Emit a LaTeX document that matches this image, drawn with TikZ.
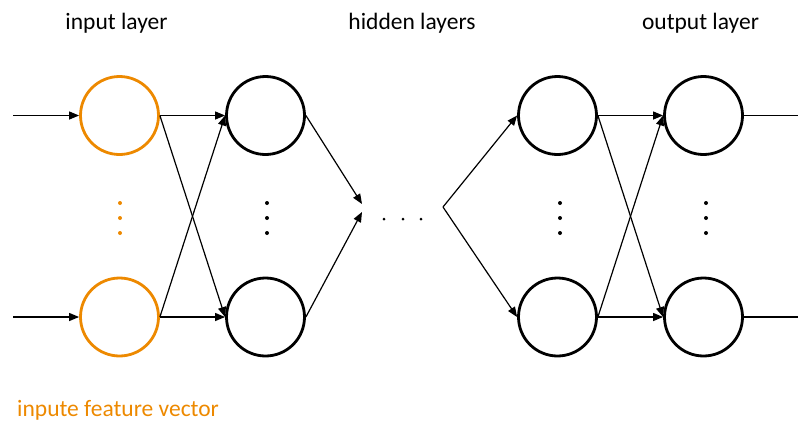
\documentclass[tikz,border=0pt]{standalone}
\usepackage{fontspec}
\setmainfont{Carlito}
\usetikzlibrary{arrows.meta}
\definecolor{featorange}{RGB}{237,137,0}
\begin{document}
\begin{tikzpicture}[x=1pt,y=-1pt,
  neuron/.style={circle,draw=black,line width=2.8pt,minimum size=78pt,inner sep=0pt},
  inneuron/.style={neuron,draw=featorange},
  link/.style={line width=1.2pt,-{Triangle[length=10pt,width=8pt]}},
  plain/.style={line width=1.2pt},
  vdot/.style={circle,fill=black,inner sep=0pt,minimum size=4pt},
  hdot/.style={circle,fill=black,inner sep=0pt,minimum size=3pt},
  caption/.style={font=\fontsize{23.5}{28}\selectfont,inner sep=0pt}]
\useasboundingbox (0,0) rectangle (798,421);

% layer titles
\node[caption] (tin) at (116.5,23) {input layer};
\node[caption] (thid) at (412,23) {hidden layers};
\node[caption] (tout) at (700.5,23) {output layer};
\node[caption,text=featorange,anchor=west] (tfeat) at (17,410) {inpute feature vector};

% neurons
\node[inneuron] (i1) at (119.5,115.5) {};
\node[inneuron] (i2) at (119.5,317) {};
\node[neuron] (h1) at (265.5,115.5) {};
\node[neuron] (h2) at (265.5,317) {};
\node[neuron] (k1) at (557.5,115.5) {};
\node[neuron] (k2) at (557.5,317) {};
\node[neuron] (o1) at (703.5,115.5) {};
\node[neuron] (o2) at (703.5,317) {};

% vertical ellipses
\foreach \yy [count=\n] in {203,218,233} {
  \node[vdot,fill=featorange] (di\n) at (120,\yy) {};
  \node[vdot] (dh\n) at (267,\yy) {};
  \node[vdot] (dk\n) at (560,\yy) {};
  \node[vdot] (do\n) at (706,\yy) {};
}
% horizontal ellipsis between hidden layers
\node[hdot] (e1) at (384,219) {};
\node[hdot] (e2) at (403,219) {};
\node[hdot] (e3) at (421,219) {};

% free ends
\coordinate (in1) at (13,115.5);
\coordinate (in2) at (13,317);
\coordinate (out1) at (798,115.5);
\coordinate (out2) at (798,317);
\coordinate (mid1) at (362,204);
\coordinate (mid2) at (362,212);
\coordinate (fan) at (443,207);

% connections
\draw[link] (in1) -- (i1.west);
\draw[link] (in2) -- (i2.west);
\draw[link] (i1.east) -- (h1.west);
\draw[link] (i1.east) -- (h2.west);
\draw[link] (i2.east) -- (h1.west);
\draw[link] (i2.east) -- (h2.west);
\draw[link] (h1.east) -- (mid1);
\draw[link] (h2.east) -- (mid2);
\draw[link] (fan) -- (k1.west);
\draw[link] (fan) -- (k2.west);
\draw[link] (k1.east) -- (o1.west);
\draw[link] (k1.east) -- (o2.west);
\draw[link] (k2.east) -- (o1.west);
\draw[link] (k2.east) -- (o2.west);
\draw[plain] (o1.east) -- (out1);
\draw[plain] (o2.east) -- (out2);
\end{tikzpicture}
\end{document}
